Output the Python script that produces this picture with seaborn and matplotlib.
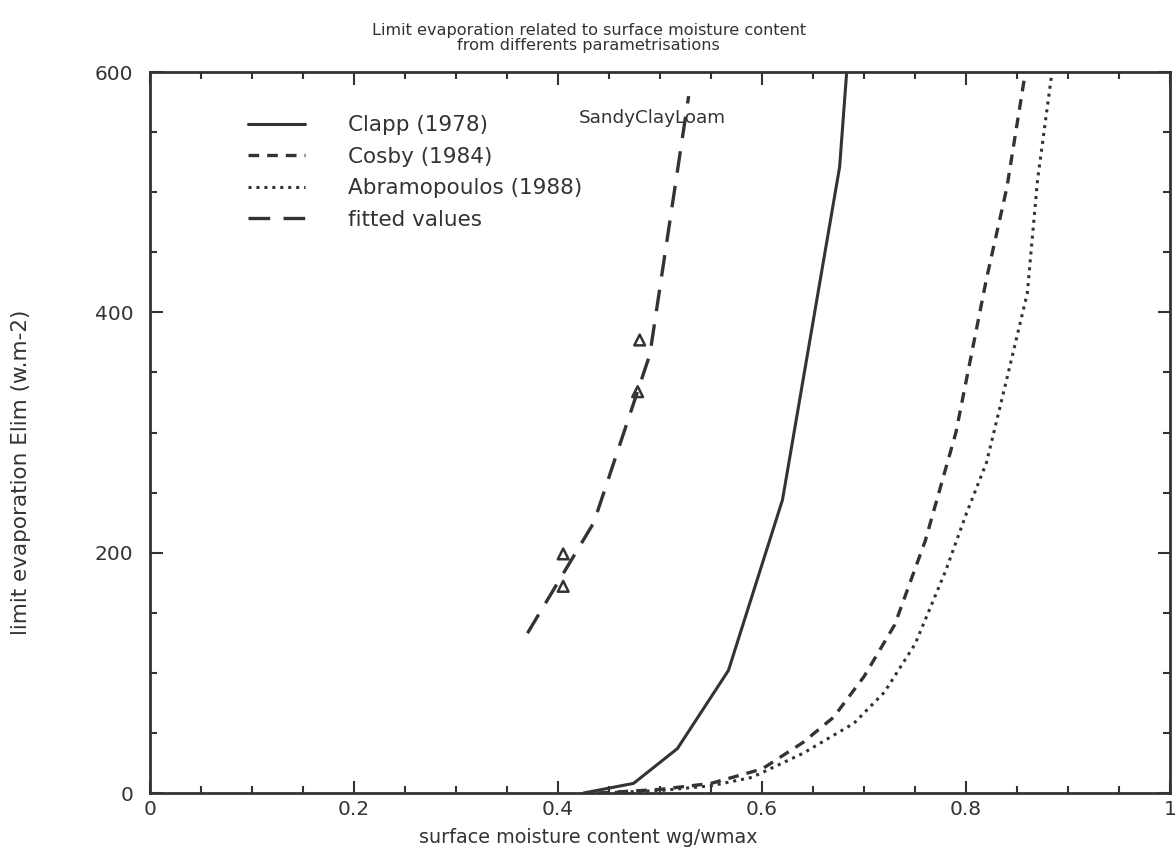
import matplotlib
matplotlib.use("Agg")
import matplotlib.pyplot as plt
import seaborn as sns
from matplotlib.ticker import MultipleLocator, FuncFormatter

# curves
clapp_x = [0.425, 0.474, 0.517, 0.567, 0.62, 0.676, 0.725]
clapp_y = [0, 8, 37, 102, 244, 521, 1080]

cosby_x = [0.44, 0.50, 0.55, 0.60, 0.64, 0.67, 0.70, 0.73, 0.76, 0.79, 0.82, 0.84, 0.86]
cosby_y = [0, 3, 8, 20, 42, 63, 97, 140, 210, 300, 428, 504, 610]

abram_x = [0.44, 0.50, 0.55, 0.59, 0.64, 0.69, 0.72, 0.75, 0.78, 0.80, 0.82, 0.84, 0.86, 0.87, 0.885]
abram_y = [0, 2, 6, 13, 33, 58, 84, 124, 185, 232, 275, 345, 416, 510, 605]

fitted_x = [0.37, 0.435, 0.49, 0.528]
fitted_y = [133, 225, 365, 580]

obs_x = [0.405, 0.405, 0.478, 0.48]
obs_y = [172, 199, 334, 377]

ink = '#333333'

sns.set_style('ticks')
plt.rcParams['font.family'] = ['DejaVu Sans']

fig = plt.figure(figsize=(11.76, 8.68), dpi=100)
ax = fig.add_axes([0.1276, 0.0864, 0.8674, 0.8306])

sns.lineplot(x=clapp_x, y=clapp_y, ax=ax, color=ink, lw=2.2, estimator=None,
             linestyle='-', label='Clapp (1978)')
sns.lineplot(x=cosby_x, y=cosby_y, ax=ax, color=ink, lw=2.4, estimator=None,
             linestyle=(0, (3.2, 2.4)), label='Cosby (1984)')
sns.lineplot(x=abram_x, y=abram_y, ax=ax, color=ink, lw=2.2, estimator=None,
             linestyle=(0, (1, 1.6)), label='Abramopoulos (1988)')
sns.lineplot(x=fitted_x, y=fitted_y, ax=ax, color=ink, lw=2.4, estimator=None,
             linestyle=(0, (6.5, 4)), label='fitted values')
sns.scatterplot(x=obs_x, y=obs_y, ax=ax, marker='^', s=60, facecolor='none',
                edgecolor=ink, linewidth=1.8, zorder=5)

ax.text(0.42, 562, 'SandyClayLoam', fontsize=13.2, color=ink, va='center')

ax.set_xlim(0, 1)
ax.set_ylim(0, 600)
ax.xaxis.set_major_locator(MultipleLocator(0.2))
ax.xaxis.set_minor_locator(MultipleLocator(0.05))
ax.yaxis.set_major_locator(MultipleLocator(200))
ax.yaxis.set_minor_locator(MultipleLocator(50))
ax.xaxis.set_major_formatter(FuncFormatter(lambda v, p: f'{v:g}'))
ax.tick_params(which='both', direction='in', top=True, right=True, colors=ink,
               labelsize=14.5, width=1.5)
ax.tick_params(which='major', length=9)
ax.tick_params(axis='x', which='major', pad=5)
ax.tick_params(axis='y', which='major', pad=12)
ax.tick_params(which='minor', length=5)
for s in ax.spines.values():
    s.set_linewidth(2)
    s.set_color(ink)

ax.set_xlabel('surface moisture content wg/wmax', fontsize=13.8, color=ink)
ax.xaxis.set_label_coords(0.43, -0.048)
ax.set_ylabel('limit evaporation Elim (w.m-2)', fontsize=15.5, color=ink)
ax.yaxis.set_label_coords(-0.117, 0.445)
ax.set_title('Limit evaporation related to surface moisture content\nfrom differents parametrisations',
             fontsize=11.6, color=ink, x=0.43, y=1.0, pad=16, linespacing=1.0)

leg = ax.legend(loc='upper left', bbox_to_anchor=(0.096, 0.94), frameon=False,
                fontsize=15.5, handlelength=2.65, handletextpad=2.0, labelspacing=0.53,
                borderpad=0, borderaxespad=0)
for t in leg.get_texts():
    t.set_color(ink)

plt.savefig('out.png', dpi=100)
plt.close()
